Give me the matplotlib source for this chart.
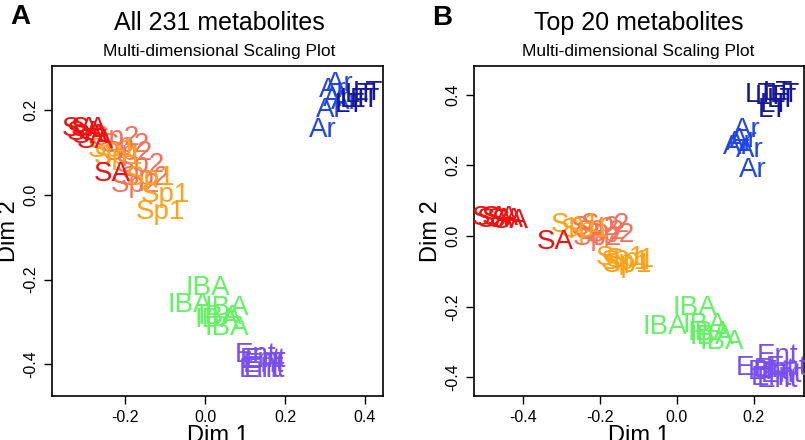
import matplotlib
matplotlib.use("Agg")
import matplotlib.pyplot as plt

plt.rcParams['font.family'] = ['Liberation Sans', 'DejaVu Sans']

# ---------------- data ----------------
groups = ["Sp2", "Sp1", "SA", "IBA", "Ent", "Ar", "LT"]
group_colors = ["#F4715E", "#FFA21A", "#EE1111", "#63F263", "#7A4FF0", "#2146E6", "#171799"]

# Panel A : All 231 metabolites (Dim 1, Dim 2)
a_sp2_x = [-0.225, -0.200, -0.1925, -0.1625, -0.150, -0.175]
a_sp2_y = [0.135, 0.118, 0.099, 0.071, 0.040, 0.024]
a_sp1_x = [-0.2175, -0.2325, -0.1375, -0.100, -0.1125]
a_sp1_y = [0.090, 0.106, 0.040, 0.000, -0.040]
a_sa_x = [-0.3125, -0.300, -0.2875, -0.275, -0.290, -0.2325]
a_sa_y = [0.155, 0.146, 0.139, 0.127, 0.155, 0.050]
a_iba_x = [0.0075, -0.0375, 0.055, 0.0375, 0.030, 0.055]
a_iba_y = [-0.220, -0.260, -0.267, -0.288, -0.295, -0.314]
a_ent_x = [0.125, 0.1375, 0.150, 0.145, 0.135, 0.148]
a_ent_y = [-0.378, -0.390, -0.390, -0.401, -0.413, -0.413]
a_ar_x = [0.295, 0.3125, 0.330, 0.320, 0.3375, 0.350]
a_ar_y = [0.153, 0.200, 0.226, 0.248, 0.262, 0.219]
a_lt_x = [0.3875, 0.400, 0.375, 0.408, 0.3625]
a_lt_y = [0.236, 0.224, 0.224, 0.241, 0.2125]

# Panel B : Top 20 metabolites
b_sp2_x = [-0.212, -0.199, -0.186, -0.173, -0.205]
b_sp2_y = [0.023, 0.011, 0.031, 0.003, -0.006]
b_sp1_x = [-0.238, -0.264, -0.147, -0.134, -0.121, -0.128]
b_sp1_y = [0.017, 0.031, -0.062, -0.074, -0.068, -0.082]
b_sa_x = [-0.485, -0.472, -0.459, -0.446, -0.433, -0.316]
b_sa_y = [0.051, 0.045, 0.051, 0.045, 0.042, -0.017]
b_iba_x = [0.0475, -0.030, 0.0735, 0.0865, 0.092, 0.118]
b_iba_y = [-0.2035, -0.257, -0.252, -0.274, -0.2855, -0.300]
b_ent_x = [0.239, 0.255, 0.271, 0.284, 0.262, 0.245, 0.206, 0.262]
b_ent_y = [-0.384, -0.379, -0.393, -0.373, -0.407, -0.401, -0.373, -0.340]
b_ar_x = [0.183, 0.157, 0.164, 0.190, 0.175, 0.198]
b_ar_y = [0.300, 0.252, 0.263, 0.243, 0.271, 0.187]
b_lt_x = [0.216, 0.242, 0.263, 0.274, 0.255, 0.281, 0.250]
b_lt_y = [0.399, 0.393, 0.404, 0.384, 0.370, 0.399, 0.356]

a_xticks = [-0.2, 0.0, 0.2, 0.4]
a_yticks = [-0.4, -0.2, 0.0, 0.2]
b_xticks = [-0.4, -0.2, 0.0, 0.2]
b_yticks = [-0.4, -0.2, 0.0, 0.2, 0.4]

panel_a = [(a_sp2_x, a_sp2_y), (a_sp1_x, a_sp1_y), (a_sa_x, a_sa_y), (a_iba_x, a_iba_y),
           (a_ent_x, a_ent_y), (a_ar_x, a_ar_y), (a_lt_x, a_lt_y)]
panel_b = [(b_sp2_x, b_sp2_y), (b_sp1_x, b_sp1_y), (b_sa_x, b_sa_y), (b_iba_x, b_iba_y),
           (b_ent_x, b_ent_y), (b_ar_x, b_ar_y), (b_lt_x, b_lt_y)]

# ---------------- figure ----------------
fig = plt.figure(figsize=(8.05, 4.40), dpi=100)
axA = fig.add_axes([0.0646, 0.100, 0.4112, 0.750])
axB = fig.add_axes([0.5888, 0.100, 0.4100, 0.750])


def draw(ax, data, xlim, ylim, xticks, yticks):
    for (xs, ys), lab, col in zip(data, groups, group_colors):
        for x, y in zip(xs, ys):
            ax.text(x, y, lab, color=col, fontsize=20, ha='center', va='center')
    ax.set_xlim(*xlim)
    ax.set_ylim(*ylim)
    ax.set_xticks(xticks)
    ax.set_yticks(yticks)
    ax.set_xticklabels([f"{t:.1f}" for t in xticks])
    ax.set_yticklabels([f"{t:.1f}" for t in yticks], rotation=90, va='center')
    ax.tick_params(direction='out', length=6, width=1.0, labelsize=11.5, pad=4)
    for s in ax.spines.values():
        s.set_linewidth(1.2)
    ax.set_xlabel("Dim 1", fontsize=17, labelpad=0)
    ax.set_ylabel("Dim 2", fontsize=17, labelpad=2)


draw(axA, panel_a, (-0.3825, 0.445), (-0.4746, 0.3046), a_xticks, a_yticks)
draw(axB, panel_b, (-0.5265, 0.3306), (-0.4523, 0.4806), b_xticks, b_yticks)

# titles
fig.text(0.2720, 0.948, "All 231 metabolites", fontsize=18, ha='center', va='center')
fig.text(0.2720, 0.884, "Multi-dimensional Scaling Plot", fontsize=12.5, ha='center', va='center')
fig.text(0.7930, 0.948, "Top 20 metabolites", fontsize=18, ha='center', va='center')
fig.text(0.7930, 0.884, "Multi-dimensional Scaling Plot", fontsize=12.5, ha='center', va='center')
fig.text(0.025, 0.962, "A", fontsize=20, fontweight='bold', ha='center', va='center')
fig.text(0.549, 0.958, "B", fontsize=20, fontweight='bold', ha='center', va='center')

fig.savefig("out.png", dpi=100)
